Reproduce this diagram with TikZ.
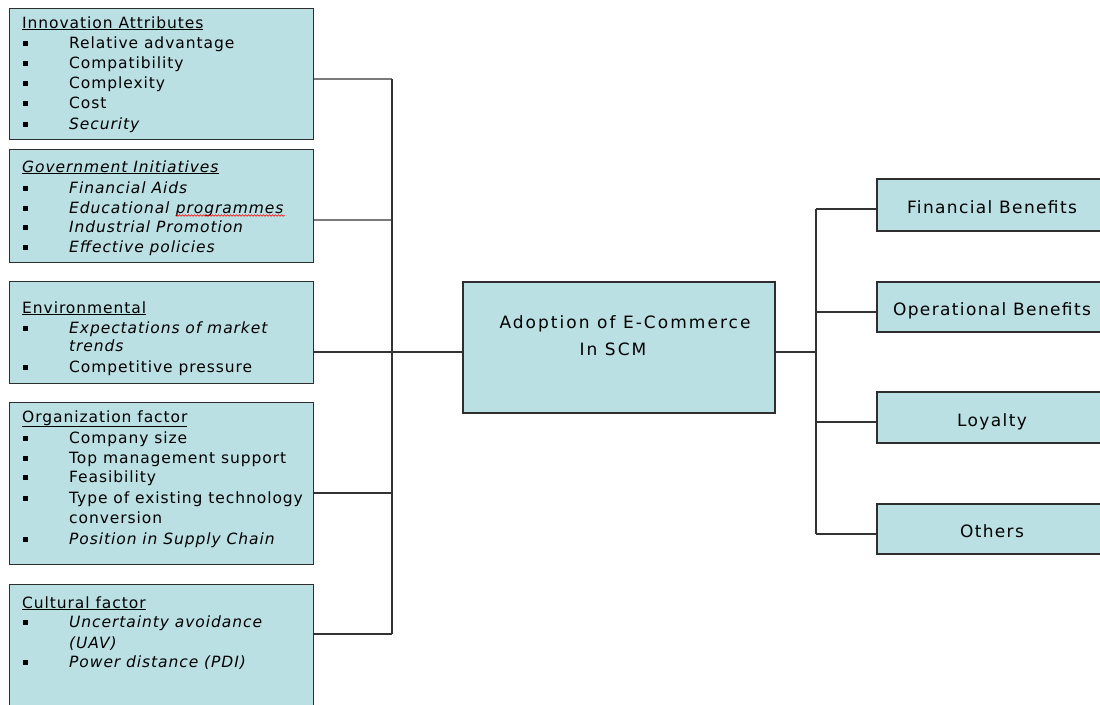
\documentclass[tikz,border=0pt]{standalone}
\usepackage{fontspec}
\setmainfont{DejaVu Sans}
\newfontfamily\lfam{DejaVu Sans}[LetterSpace=6]
\newfontfamily\cfam{DejaVu Sans}[LetterSpace=8]
\newfontfamily\mfam{DejaVu Sans}[LetterSpace=12]
\usetikzlibrary{decorations.pathmorphing}
\definecolor{boxfill}{HTML}{BBE0E3}
\definecolor{boxline}{HTML}{2E2E2E}
\definecolor{conline}{HTML}{333333}
\definecolor{conlight}{HTML}{7A7A7A}
\newcommand\lsz{\lfam\fontsize{15.5}{20}\selectfont}
\newcommand\csz{\cfam\fontsize{17}{22}\selectfont}
\newcommand\msz{\mfam\fontsize{17}{22}\selectfont}
\newcommand\bul{\makebox[46pt][l]{\rule[2.5pt]{4.5pt}{4.5pt}}}
\tikzset{
  fbox/.style={draw=boxline, fill=boxfill, line width=1.3pt, inner sep=0pt, rectangle},
  lbox/.style={fbox, anchor=north west, minimum width=304pt},
  rbox/.style={fbox, minimum width=230pt, font=\csz, text height=17pt, text depth=0pt},
  tl/.style={anchor=base west, inner sep=0pt, font=\lsz},
  ct/.style={anchor=base, inner sep=0pt, font=\msz},
  con/.style={draw=conline, line width=1.3pt},
  conl/.style={draw=conlight, line width=1.2pt},
  spell/.style={draw=red, line width=0.6pt, decorate, decoration={snake, amplitude=0.8pt, segment length=3pt}}
}
\begin{document}
\begin{tikzpicture}[x=1pt, y=-1pt]
\useasboundingbox (0,0) rectangle (1100,704);
\clip (0,0) rectangle (1100,704);
\fill[white] (0,0) rectangle (1100,704);

% left boxes
\node[lbox, minimum height=131pt] (b1) at (9,8) {};
\node[lbox, minimum height=113pt] (b2) at (9,149) {};
\node[lbox, minimum height=102pt] (b3) at (9,281) {};
\node[lbox, minimum height=162pt] (b4) at (9,402) {};
\node[lbox, minimum height=140pt] (b5) at (9,584) {};

% central box
\node[fbox, minimum width=312pt, minimum height=131pt] (cb) at (619,347.5) {};
\node[ct] (c1) at (625,328) {Adoption of E-Commerce};
\node[ct] (c2) at (613,355) {In SCM};

% right boxes
\node[rbox, minimum height=52pt] (fb) at (992,205) {Financial Benefits};
\node[rbox, minimum height=50pt] (ob) at (992,307) {Operational Benefits};
\node[rbox, minimum height=51pt] (lb) at (992,417.5) {Loyalty};
\node[rbox, minimum height=50pt] (xb) at (992,529) {Others};

% box 1 text
\node[tl] (t1) at (22,28) {\underline{Innovation Attributes}};
\node[tl] (t1a) at (23,48) {\bul Relative advantage};
\node[tl] (t1b) at (23,68) {\bul Compatibility};
\node[tl] (t1c) at (23,88) {\bul Complexity};
\node[tl] (t1d) at (23,108) {\bul Cost};
\node[tl] (t1e) at (23,129) {\bul\textit{Security}};

% box 2 text
\node[tl] (t2) at (22,172) {\underline{\textit{Government Initiatives}}};
\node[tl] (t2a) at (23,193) {\bul\textit{Financial Aids}};
\node[tl] (t2b) at (23,213) {\bul\textit{Educational}};
\node[tl] (t2bb) at ([xshift=5pt]t2b.base east) {\textit{programmes}};
\node[tl] (t2c) at (23,232) {\bul\textit{Industrial Promotion}};
\node[tl] (t2d) at (23,252) {\bul\textit{Effective policies}};
\draw[spell] ([yshift=-2.5pt]t2bb.base west) -- ([yshift=-2.5pt]t2bb.base east);

% box 3 text
\node[tl] (t3) at (22,313) {\underline{Environmental}};
\node[tl] (t3a) at (23,333) {\bul\textit{Expectations of market}};
\node[tl] (t3b) at (69,351) {\textit{trends}};
\node[tl] (t3c) at (23,372) {\bul Competitive pressure};

% box 4 text
\node[tl] (t4) at (22,422) {\underline{Organization factor}};
\node[tl] (t4a) at (23,443) {\bul Company size};
\node[tl] (t4b) at (23,463) {\bul Top management support};
\node[tl] (t4c) at (23,482) {\bul Feasibility};
\node[tl] (t4d) at (23,503) {\bul Type of existing technology};
\node[tl] (t4e) at (69,523) {conversion};
\node[tl] (t4f) at (23,544) {\bul\textit{Position in Supply Chain}};

% box 5 text
\node[tl] (t5) at (22,608) {\underline{Cultural factor}};
\node[tl] (t5a) at (23,627) {\bul\textit{Uncertainty avoidance}};
\node[tl] (t5b) at (69,648) {\textit{(UAV)}};
\node[tl] (t5c) at (23,667) {\bul\textit{Power distance (PDI)}};

% left connectors
\coordinate (j1) at (392,79);
\coordinate (j2) at (392,220);
\coordinate (j3) at (392,352);
\coordinate (j4) at (392,493);
\coordinate (j5) at (392,634);
\draw[conl] (j1 -| b1.east) -- (j1);
\draw[conl] (j2 -| b2.east) -- (j2);
\draw[con] (j3 -| b3.east) -- (j3);
\draw[con] (j4 -| b4.east) -- (j4);
\draw[con] (j5 -| b5.east) -- (j5);
\draw[con] (j1) -- (j5);
\draw[con] (j3) -- (j3 -| cb.west);

% right connectors
\coordinate (k0) at (816,352);
\coordinate (k1) at (816,209);
\coordinate (k2) at (816,312);
\coordinate (k3) at (816,422);
\coordinate (k4) at (816,534);
\draw[con] (k0 -| cb.east) -- (k0);
\draw[con] (k1) -- (k4);
\draw[con] (k1) -- (k1 -| fb.west);
\draw[con] (k2) -- (k2 -| ob.west);
\draw[con] (k3) -- (k3 -| lb.west);
\draw[con] (k4) -- (k4 -| xb.west);
\end{tikzpicture}
\end{document}
